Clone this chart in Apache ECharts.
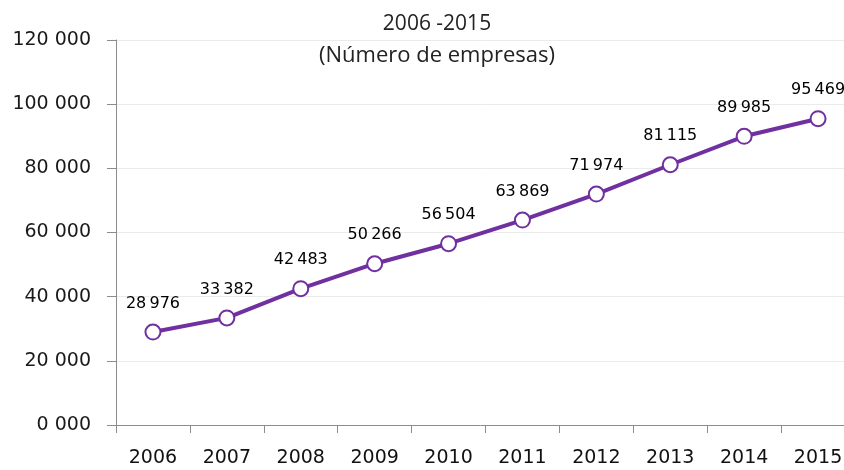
<!DOCTYPE html>
<html>
<head>
<meta charset="utf-8">
<script src="https://cdn.jsdelivr.net/npm/echarts@6/dist/echarts.min.js"></script>
<style>
  html, body { margin: 0; padding: 0; background: #fff; }
  #chart { width: 844px; height: 470px; }
</style>
</head>
<body>
<div id="chart"></div>
<script>
const years = ['2006', '2007', '2008', '2009', '2010', '2011', '2012', '2013', '2014', '2015']
const empresas = [28976, 33382, 42483, 50266, 56504, 63869, 71974, 81115, 89985, 95469]
const yTicks = [0, 20000, 40000, 60000, 80000, 100000, 120000]

const labelFont = '"DejaVu Sans", sans-serif'
const titleFont = '"Open Sans", sans-serif'
const purple = '#7030a0'

// 28976 -> "28 976", 0 -> "0 000"
function fmt(v, sep) {
  const th = Math.floor(v / 1000)
  const rest = String(v % 1000).padStart(3, '0')
  return th + sep + rest
}

const chart = echarts.init(document.getElementById('chart'))

chart.setOption({
  animation: false,
  grid: {
    top: 40,
    bottom: 45,
    left: 116,
    width: 739,
    outerBoundsMode: 'none',
    containLabel: false
  },
  graphic: [
    {
      type: 'text',
      x: 437,
      y: 24,
      style: {
        text: '2006 -2015',
        fontSize: 21,
        fill: '#222',
        fontFamily: titleFont,
        textAlign: 'center',
        textVerticalAlign: 'middle'
      }
    },
    {
      type: 'text',
      x: 437,
      y: 56,
      style: {
        text: '(Número de empresas)',
        fontSize: 22,
        fill: '#222',
        fontFamily: titleFont,
        textAlign: 'center',
        textVerticalAlign: 'middle'
      }
    }
  ],
  xAxis: {
    type: 'category',
    data: years,
    boundaryGap: true,
    axisLine: { lineStyle: { color: '#8c8c8c', width: 1 } },
    axisTick: { show: true, length: 8, lineStyle: { color: '#8c8c8c' } },
    axisLabel: { color: '#111', fontSize: 19, margin: 24, fontFamily: labelFont }
  },
  yAxis: {
    type: 'value',
    min: yTicks[0],
    max: yTicks[yTicks.length - 1],
    interval: 20000,
    axisLine: { show: true, lineStyle: { color: '#8c8c8c', width: 1 } },
    axisTick: { show: true, length: 9, lineStyle: { color: '#8c8c8c' } },
    splitLine: { lineStyle: { color: '#ebebeb' } },
    axisLabel: {
      color: '#1a1a1a',
      fontSize: 19,
      margin: 25,
      fontFamily: labelFont,
      formatter: v => fmt(v, ' ')
    }
  },
  series: [
    {
      type: 'line',
      data: empresas,
      symbol: 'circle',
      symbolSize: 15,
      lineStyle: { color: purple, width: 4 },
      itemStyle: { color: '#fff', borderColor: purple, borderWidth: 2 },
      label: {
        show: true,
        position: 'top',
        distance: 12,
        color: '#000',
        fontSize: 16,
        fontFamily: labelFont,
        formatter: p => fmt(p.value, '\u2009')
      }
    }
  ]
})
</script>
</body>
</html>
